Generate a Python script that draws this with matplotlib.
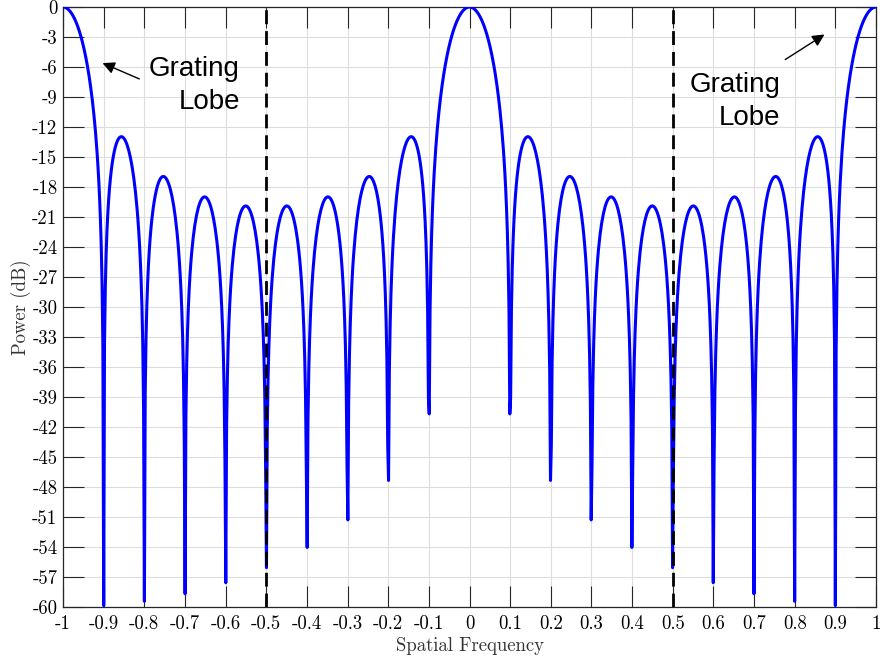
import numpy as np
import matplotlib
matplotlib.use("Agg")
import matplotlib.pyplot as plt

# uniform linear array: nulls every 0.1, grating lobes at +-1
n_elements = 10
spacing = 1.0  # element spacing in wavelengths
n_samples = 1000

x_ticks = [-1, -0.9, -0.8, -0.7, -0.6, -0.5, -0.4, -0.3, -0.2, -0.1,
           0, 0.1, 0.2, 0.3, 0.4, 0.5, 0.6, 0.7, 0.8, 0.9, 1]
x_labels = ["-1", "-0.9", "-0.8", "-0.7", "-0.6", "-0.5", "-0.4", "-0.3", "-0.2", "-0.1",
            "0", "0.1", "0.2", "0.3", "0.4", "0.5", "0.6", "0.7", "0.8", "0.9", "1"]
y_ticks = [0, -3, -6, -9, -12, -15, -18, -21, -24, -27, -30, -33, -36, -39,
           -42, -45, -48, -51, -54, -57, -60]
y_labels = [str(v) for v in y_ticks]
visible_region = [-0.5, 0.5]

u = np.linspace(-1, 1, n_samples)
with np.errstate(divide="ignore", invalid="ignore"):
    af = np.sin(n_elements * np.pi * spacing * u) / (n_elements * np.sin(np.pi * spacing * u))
power_db = 20 * np.log10(np.abs(af))

plt.rcParams["font.family"] = ["cmr10", "DejaVu Serif"]
plt.rcParams["axes.unicode_minus"] = False

fig = plt.figure(figsize=(8.8, 6.68), dpi=100)
ax = fig.add_axes([0.0716, 0.0913, 0.9239, 0.8982])

ax.grid(True, color="#dddddd", linewidth=0.8)
ax.set_axisbelow(True)
ax.plot(u, power_db, color="#0000ff", linewidth=2.2, zorder=3)
for xv in visible_region:
    ax.axvline(xv, color="black", linewidth=2.0, linestyle=(0, (5, 2.5)), zorder=4)

ax.set_xlim(-1, 1)
ax.set_ylim(-60, 0)
ax.set_xticks(x_ticks)
ax.set_xticklabels(x_labels)
ax.set_yticks(y_ticks)
ax.set_yticklabels(y_labels)
ax.tick_params(direction="in", length=15, width=0.8, labelsize=13.5,
               top=True, right=True, color="#262626")
ax.tick_params(axis="x", pad=6)
ax.tick_params(axis="y", pad=4)
for s in ax.spines.values():
    s.set_linewidth(0.9)
    s.set_color("#262626")

ax.set_xlabel("Spatial Frequency", fontsize=13.5, labelpad=3, color="#333333")
ax.set_ylabel("Power (dB)", fontsize=13.5, labelpad=1, color="#333333")

ann_font = ["Liberation Sans", "DejaVu Sans"]
ax.annotate("", xy=(-0.909, -5.5), xytext=(-0.806, -7.3),
            arrowprops=dict(arrowstyle="-|>", color="black", lw=1.0, mutation_scale=18))
ax.text(-0.565, -7.8, "Grating\nLobe", ha="right", va="center", multialignment="right",
        fontsize=20, family=ann_font, linespacing=1.35)
ax.annotate("", xy=(0.879, -2.6), xytext=(0.771, -5.4),
            arrowprops=dict(arrowstyle="-|>", color="black", lw=1.0, mutation_scale=18))
ax.text(0.764, -9.4, "Grating\nLobe", ha="right", va="center", multialignment="right",
        fontsize=20, family=ann_font, linespacing=1.35)

fig.savefig("out.png", dpi=100)
